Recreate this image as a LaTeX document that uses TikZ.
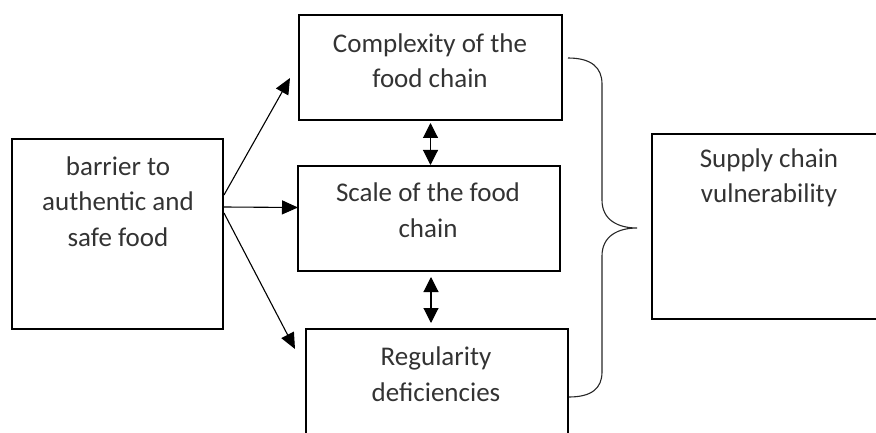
\documentclass[tikz,border=0pt]{standalone}
\usepackage{fontspec}
\setmainfont{Carlito}
\usetikzlibrary{arrows.meta,calc}
\definecolor{txtgray}{HTML}{333333}
\tikzset{
  box/.style={draw=black, line width=2.4pt, inner sep=0pt, outer sep=0pt, anchor=north west},
  lbl/.style={text=txtgray, align=center, inner sep=0pt, anchor=base, font=\fontsize{27}{35.5}\selectfont},
  arr/.style={line width=1.1pt, -{Triangle[length=16pt,width=14pt]}},
  dbl/.style={line width=1.1pt, {Triangle[length=15pt,width=15pt]}-{Triangle[length=15pt,width=15pt]}},
  brace/.style={line width=1.1pt, draw=black!85}
}
\begin{document}
\begin{tikzpicture}[x=1pt,y=-1pt]
\useasboundingbox (0,0) rectangle (876,433);
\clip (0,0) rectangle (876,433);
% boxes
\node[box, minimum width=211pt, minimum height=190pt] (left) at (12,139) {};
\node[box, minimum width=263pt, minimum height=105pt] (cplx) at (299,15) {};
\node[box, minimum width=262pt, minimum height=105pt] (scale) at (298,166) {};
\node[box, minimum width=262pt, minimum height=131pt] (reg) at (306,329) {};
\node[box, minimum width=248pt, minimum height=185pt] (supply) at (652,134) {};
% texts
\node[lbl] (tleft) at (118,246) {barrier to\\authentic and\\safe food};
\node[lbl] (tcplx) at (430,88) {Complexity of the\\food chain};
\node[lbl] (tscale) at (428,237) {Scale of the food\\chain};
\node[lbl] (treg) at (436,401) {Regularity\\deficiencies};
\node[lbl] (tsupply) at (769,203) {Supply chain\\vulnerability};
% arrows from the left box
\draw[arr] ($(left.east)+(1,-39)$) -- ($(cplx.west)+(-9,10.5)$);
\draw[arr] ($(left.east)+(1,-27)$) -- ($(scale.west)+(0,-11)$);
\draw[arr] ($(left.east)+(1,-21)$) -- ($(reg.north west)+(-11,20)$);
% double arrows
\draw[dbl] ($(cplx.south)+(0,3)$) -- ($(cplx.south |- scale.north)+(0,-1)$);
\draw[dbl] ($(scale.south)+(2,6)$) -- ($(scale.south |- reg.north)+(2,-6)$);
% brace
\coordinate (btop) at (568,58);
\coordinate (bbot) at (569,397);
\coordinate (btip) at (637,228);
\draw[brace] (btop) .. controls (592,58) and (602,68) .. (602,84)
  -- (602,200) .. controls (602,220) and (618,228) .. (btip)
  .. controls (618,228) and (602,236) .. (602,256)
  -- (602,372) .. controls (602,388) and (592,397) .. (bbot);
\end{tikzpicture}
\end{document}
